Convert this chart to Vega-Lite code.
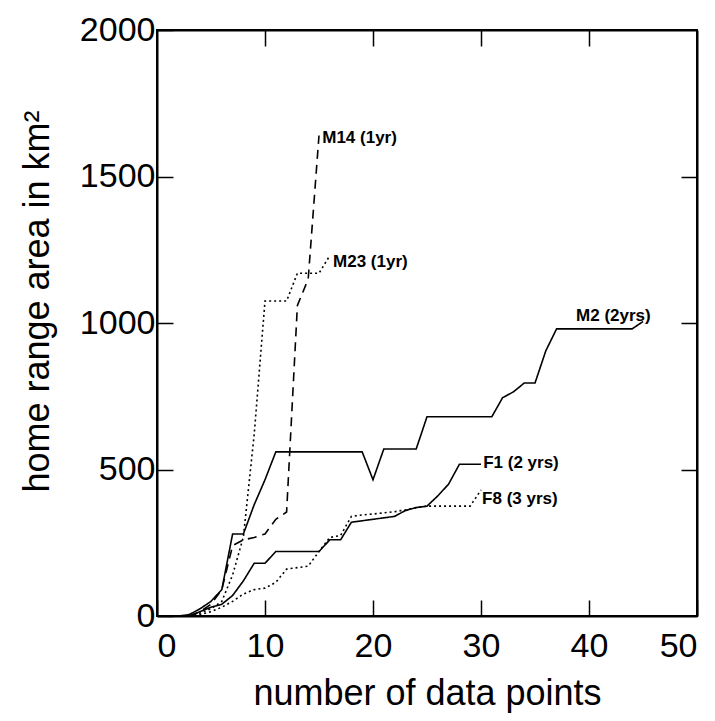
{
  "$schema": "https://vega.github.io/schema/vega-lite/v6.json",
  "width": 540,
  "height": 586,
  "autosize": {"type": "none"},
  "padding": {"left": 157, "top": 30, "right": 18, "bottom": 105},
  "background": "white",
  "config": {
    "view": {"stroke": "black", "strokeWidth": 2},
    "font": "Liberation Sans",
    "axis": {
      "grid": false,
      "domainColor": "black",
      "domainWidth": 2,
      "tickColor": "black",
      "tickWidth": 1.5,
      "labelColor": "black",
      "titleColor": "black",
      "labelFont": "Liberation Sans",
      "titleFont": "Liberation Sans",
      "titleFontWeight": "normal"
    }
  },
  "datasets": {
    "curves": [
      {"series": "M2", "x": 2, "y": 0}, {"series": "M2", "x": 3, "y": 5}, {"series": "M2", "x": 4, "y": 25}, {"series": "M2", "x": 5, "y": 50}, {"series": "M2", "x": 6, "y": 90}, {"series": "M2", "x": 7, "y": 280}, {"series": "M2", "x": 8, "y": 280}, {"series": "M2", "x": 9, "y": 380}, {"series": "M2", "x": 10, "y": 465}, {"series": "M2", "x": 11, "y": 560}, {"series": "M2", "x": 12, "y": 560}, {"series": "M2", "x": 13, "y": 560}, {"series": "M2", "x": 14, "y": 560}, {"series": "M2", "x": 15, "y": 560}, {"series": "M2", "x": 16, "y": 560}, {"series": "M2", "x": 17, "y": 560}, {"series": "M2", "x": 18, "y": 560}, {"series": "M2", "x": 19, "y": 560}, {"series": "M2", "x": 20, "y": 465}, {"series": "M2", "x": 21, "y": 570}, {"series": "M2", "x": 22, "y": 570}, {"series": "M2", "x": 23, "y": 570}, {"series": "M2", "x": 24, "y": 570}, {"series": "M2", "x": 25, "y": 680}, {"series": "M2", "x": 26, "y": 680}, {"series": "M2", "x": 27, "y": 680}, {"series": "M2", "x": 28, "y": 680}, {"series": "M2", "x": 29, "y": 680}, {"series": "M2", "x": 30, "y": 680}, {"series": "M2", "x": 31, "y": 680}, {"series": "M2", "x": 32, "y": 745}, {"series": "M2", "x": 33, "y": 765}, {"series": "M2", "x": 34, "y": 795}, {"series": "M2", "x": 35, "y": 795}, {"series": "M2", "x": 36, "y": 905}, {"series": "M2", "x": 37, "y": 980}, {"series": "M2", "x": 38, "y": 980}, {"series": "M2", "x": 39, "y": 980}, {"series": "M2", "x": 40, "y": 980}, {"series": "M2", "x": 41, "y": 980}, {"series": "M2", "x": 42, "y": 980}, {"series": "M2", "x": 43, "y": 980}, {"series": "M2", "x": 44, "y": 980}, {"series": "M2", "x": 45, "y": 1005},
      {"series": "F1", "x": 3, "y": 0}, {"series": "F1", "x": 4, "y": 15}, {"series": "F1", "x": 5, "y": 30}, {"series": "F1", "x": 6, "y": 40}, {"series": "F1", "x": 7, "y": 70}, {"series": "F1", "x": 8, "y": 120}, {"series": "F1", "x": 9, "y": 180}, {"series": "F1", "x": 10, "y": 180}, {"series": "F1", "x": 11, "y": 220}, {"series": "F1", "x": 12, "y": 220}, {"series": "F1", "x": 13, "y": 220}, {"series": "F1", "x": 14, "y": 220}, {"series": "F1", "x": 15, "y": 220}, {"series": "F1", "x": 16, "y": 260}, {"series": "F1", "x": 17, "y": 260}, {"series": "F1", "x": 18, "y": 320}, {"series": "F1", "x": 19, "y": 325}, {"series": "F1", "x": 20, "y": 330}, {"series": "F1", "x": 21, "y": 335}, {"series": "F1", "x": 22, "y": 340}, {"series": "F1", "x": 23, "y": 360}, {"series": "F1", "x": 24, "y": 370}, {"series": "F1", "x": 25, "y": 375}, {"series": "F1", "x": 26, "y": 410}, {"series": "F1", "x": 27, "y": 450}, {"series": "F1", "x": 28, "y": 518}, {"series": "F1", "x": 29, "y": 518}, {"series": "F1", "x": 30, "y": 518},
      {"series": "M14", "x": 3, "y": 0}, {"series": "M14", "x": 4, "y": 15}, {"series": "M14", "x": 5, "y": 40}, {"series": "M14", "x": 6, "y": 90}, {"series": "M14", "x": 7, "y": 240}, {"series": "M14", "x": 8, "y": 260}, {"series": "M14", "x": 9, "y": 268}, {"series": "M14", "x": 10, "y": 280}, {"series": "M14", "x": 11, "y": 330}, {"series": "M14", "x": 12, "y": 355}, {"series": "M14", "x": 13, "y": 1060}, {"series": "M14", "x": 14, "y": 1150}, {"series": "M14", "x": 15, "y": 1640},
      {"series": "M23", "x": 3, "y": 0}, {"series": "M23", "x": 4, "y": 10}, {"series": "M23", "x": 5, "y": 25}, {"series": "M23", "x": 6, "y": 50}, {"series": "M23", "x": 7, "y": 140}, {"series": "M23", "x": 8, "y": 270}, {"series": "M23", "x": 9, "y": 620}, {"series": "M23", "x": 10, "y": 1075}, {"series": "M23", "x": 11, "y": 1075}, {"series": "M23", "x": 12, "y": 1075}, {"series": "M23", "x": 13, "y": 1170}, {"series": "M23", "x": 14, "y": 1170}, {"series": "M23", "x": 15, "y": 1170}, {"series": "M23", "x": 16, "y": 1230},
      {"series": "F8", "x": 3, "y": 0}, {"series": "F8", "x": 4, "y": 5}, {"series": "F8", "x": 5, "y": 15}, {"series": "F8", "x": 6, "y": 30}, {"series": "F8", "x": 7, "y": 50}, {"series": "F8", "x": 8, "y": 75}, {"series": "F8", "x": 9, "y": 90}, {"series": "F8", "x": 10, "y": 95}, {"series": "F8", "x": 11, "y": 115}, {"series": "F8", "x": 12, "y": 160}, {"series": "F8", "x": 13, "y": 165}, {"series": "F8", "x": 14, "y": 170}, {"series": "F8", "x": 15, "y": 220}, {"series": "F8", "x": 16, "y": 268}, {"series": "F8", "x": 17, "y": 275}, {"series": "F8", "x": 18, "y": 340}, {"series": "F8", "x": 19, "y": 345}, {"series": "F8", "x": 20, "y": 348}, {"series": "F8", "x": 21, "y": 352}, {"series": "F8", "x": 22, "y": 356}, {"series": "F8", "x": 23, "y": 362}, {"series": "F8", "x": 24, "y": 370}, {"series": "F8", "x": 25, "y": 375}, {"series": "F8", "x": 26, "y": 375}, {"series": "F8", "x": 27, "y": 375}, {"series": "F8", "x": 28, "y": 375}, {"series": "F8", "x": 29, "y": 375}, {"series": "F8", "x": 30, "y": 430}
    ],
    "labels": [
      {"label": "M14 (1yr)", "x": 15.3, "y": 1633},
      {"label": "M23 (1yr)", "x": 16.3, "y": 1207},
      {"label": "M2 (2yrs)", "x": 38.8, "y": 1025},
      {"label": "F1 (2 yrs)", "x": 30.2, "y": 522},
      {"label": "F8 (3 yrs)", "x": 30.1, "y": 398}
    ]
  },
  "layer": [
    {
      "data": {"name": "curves"},
      "mark": {"type": "line", "strokeWidth": 1.6, "color": "black"},
      "encoding": {
        "x": {
          "field": "x", "type": "quantitative",
          "scale": {"domain": [0, 50], "nice": false},
          "axis": {
            "orient": "bottom", "values": [0, 10, 20, 30, 40, 50],
            "tickSize": -16, "labelPadding": 29, "labelFontSize": 34,
            "title": "number of data points", "titleFontSize": 36,
            "titleBaseline": "alphabetic", "titleY": 88
          }
        },
        "y": {
          "field": "y", "type": "quantitative",
          "scale": {"domain": [0, 2000], "nice": false},
          "axis": {
            "orient": "left", "values": [0, 500, 1000, 1500, 2000], "format": "d",
            "tickSize": -16, "labelPadding": 18, "labelFontSize": 34,
            "title": "home range area in km²", "titleFontSize": 36,
            "titleAngle": -90, "titleBaseline": "middle", "titleX": -120, "titleY": 271
          }
        },
        "strokeDash": {
          "field": "series", "type": "nominal",
          "scale": {"domain": ["M2", "F1", "M14", "M23", "F8"], "range": [[1, 0], [1, 0], [9, 6], [2, 3], [2, 3]]},
          "legend": null
        }
      }
    },
    {
      "data": {"name": "curves"},
      "mark": {"type": "point", "opacity": 0},
      "encoding": {
        "x": {
          "field": "x", "type": "quantitative",
          "axis": {"orient": "top", "values": [10, 20, 30, 40], "tickSize": -16, "labels": false, "title": null}
        },
        "y": {
          "field": "y", "type": "quantitative",
          "axis": {"orient": "right", "values": [500, 1000, 1500], "tickSize": -16, "labels": false, "title": null}
        }
      }
    },
    {
      "data": {"name": "labels"},
      "mark": {"type": "text", "align": "left", "baseline": "middle", "fontSize": 17, "fontWeight": "bold", "color": "black", "font": "Liberation Sans"},
      "encoding": {
        "x": {"field": "x", "type": "quantitative", "axis": null},
        "y": {"field": "y", "type": "quantitative", "axis": null},
        "text": {"field": "label"}
      }
    }
  ],
  "resolve": {"axis": {"x": "independent", "y": "independent"}}
}
